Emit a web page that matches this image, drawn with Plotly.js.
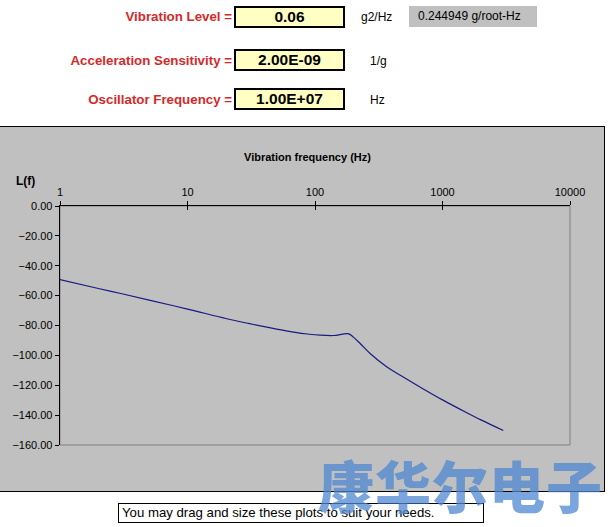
<!DOCTYPE html>
<html>
<head>
<meta charset="utf-8">
<script src="https://cdn.plot.ly/plotly-3.0.1.min.js"></script>
<style>
  html, body { margin:0; padding:0; background:#fff; width:609px; height:527px; overflow:hidden;
    font-family: Arial, "Liberation Sans", sans-serif; }
  .lbl { position:absolute; color:#d42a2a; font-weight:bold; font-size:13.3px; text-align:right; width:232px; left:0; line-height:16px; }
  .box { position:absolute; left:234px; width:107px; height:18px; background:#ffffc4; border:2px solid #000;
    font-weight:bold; font-size:15.5px; text-align:center; line-height:18px; }
  .unit { position:absolute; font-size:12px; line-height:14px; }
  #gray { position:absolute; left:409px; top:6px; width:128px; height:21px; background:#c0c0c0; font-size:12px; line-height:21px; text-indent:9px; }
  #chartwrap { position:absolute; left:-1px; top:126px; width:604px; height:364px; border:1px solid #000; background:#c0c0c0; }
  #chart { width:604px; height:364px; }
  #note { position:absolute; left:118px; top:503px; width:364px; height:18px; border:1px solid #000; background:#fff; font-size:13.2px; line-height:18px; text-indent:3px; white-space:nowrap; }
  #wm { position:absolute; left:318px; top:452px; font-family:"Noto Sans CJK SC", sans-serif; font-weight:900; font-size:56px; line-height:64px; letter-spacing:1px; color:rgba(78,135,210,0.75); white-space:nowrap; }
</style>
</head>
<body>
<div class="lbl" style="top:9px;">Vibration Level =</div>
<div class="box" style="top:6px;">0.06</div>
<div class="unit" style="left:361px; top:10px;">g2/Hz</div>
<div id="gray">0.244949 g/root-Hz</div>

<div class="lbl" style="top:53px;">Acceleration Sensitivity =</div>
<div class="box" style="top:49px;">2.00E-09</div>
<div class="unit" style="left:370px; top:54px;">1/g</div>

<div class="lbl" style="top:92px;">Oscillator Frequency =</div>
<div class="box" style="top:88px;">1.00E+07</div>
<div class="unit" style="left:370px; top:93px;">Hz</div>

<div id="chartwrap"><div id="chart"></div></div>
<div id="note">You may drag and size these plots to suit your needs.</div>
<div id="wm">康华尔电子</div>

<script>
// Vibration frequency (Hz)
const freq = [1, 2, 3, 5, 10, 20, 30, 40, 50, 70, 87, 110, 140, 184, 200, 227, 272, 367, 467, 670, 1000, 1550, 2000, 3000];
// Phase noise L(f) in dBc/Hz
const lf = [-49.3, -55.2, -58.6, -63.0, -69.0, -75.3, -78.6, -80.8, -82.4, -84.6, -85.7, -86.5, -86.7, -85.6, -87.8, -92.2, -98.9, -107.8, -113.3, -121.3, -129.8, -138.4, -143.2, -150.3];
const xTickVals = [1, 10, 100, 1000, 10000];
const xTickText = ["1", "10", "100", "1000", "10000"];
const yTickVals = [0, -20, -40, -60, -80, -100, -120, -140, -160];

const gray = '#c0c0c0';
const fnt = {family: 'Arial, "Liberation Sans", sans-serif', size: 11, color: '#000'};

const trace = {
  x: freq, y: lf, type: 'scatter', mode: 'lines',
  line: {color: '#1a1a80', width: 1.2, shape: 'spline', smoothing: 1},
  hoverinfo: 'skip', showlegend: false
};
const dummy = {x: [1], y: [0], xaxis: 'x2', yaxis: 'y', type: 'scatter', mode: 'markers', marker: {opacity: 0}, showlegend: false, hoverinfo: 'skip'};

const layout = {
  width: 604, height: 364,
  margin: {l: 60, r: 34, t: 79, b: 46},
  paper_bgcolor: gray, plot_bgcolor: gray,
  font: fnt,
  xaxis: {
    type: 'log', range: [0, 4], side: 'top',
    tickvals: xTickVals, ticktext: xTickText,
    ticks: 'outside', ticklen: 4, tickcolor: '#000', tickwidth: 1,
    showline: true, linecolor: '#000', linewidth: 1.3,
    showgrid: false, zeroline: false, tickfont: fnt, fixedrange: true
  },
  xaxis2: {
    type: 'log', range: [0, 4], overlaying: 'x', side: 'top', anchor: 'y',
    tickvals: xTickVals, showticklabels: false,
    ticks: 'inside', ticklen: 4, tickcolor: '#000', tickwidth: 1,
    showline: false, showgrid: false, zeroline: false, fixedrange: true
  },
  yaxis: {
    range: [-160, 0], tickvals: yTickVals, tickformat: '.2f',
    ticks: 'outside', ticklen: 4, tickcolor: '#000',
    showline: true, linecolor: '#000', linewidth: 1.3,
    showgrid: false, zeroline: false, tickfont: fnt, fixedrange: true
  },
  shapes: [
    {type: 'rect', xref: 'paper', yref: 'paper', x0: 0, x1: 1, y0: 0, y1: 1,
     line: {color: '#808080', width: 1}, fillcolor: 'rgba(0,0,0,0)', layer: 'below'}
  ],
  annotations: [
    {text: '<b>Vibration frequency (Hz)</b>', xref: 'paper', yref: 'paper', x: 0.485, y: 1.205,
     xanchor: 'center', yanchor: 'middle', showarrow: false, font: fnt},
    {text: '<b>L(f)</b>', xref: 'paper', yref: 'paper', x: -0.068, y: 1.104,
     xanchor: 'center', yanchor: 'middle', showarrow: false, font: {family: fnt.family, size: 12, color: '#000'}}
  ]
};

Plotly.newPlot('chart', [trace, dummy], layout, {staticPlot: true, displayModeBar: false});
</script>
</body>
</html>
